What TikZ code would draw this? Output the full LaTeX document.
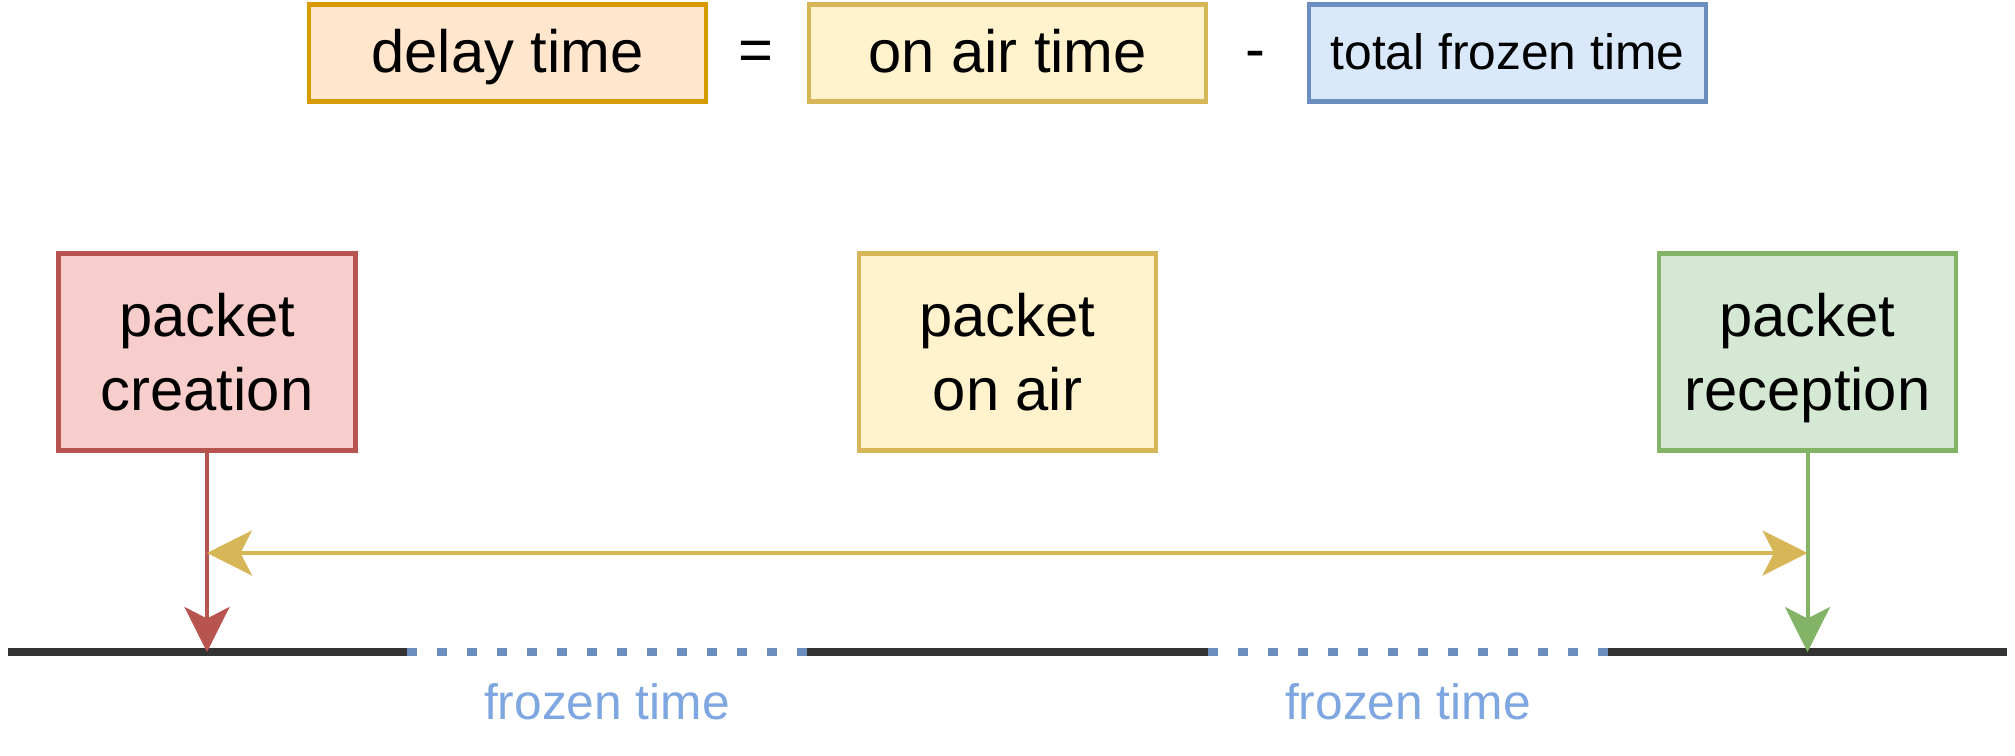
\documentclass[tikz,border=0pt]{standalone}
\usepackage{fontspec}
\setmainfont{Liberation Sans}
\usetikzlibrary{arrows.meta}
\definecolor{orangefill}{HTML}{FFE6CC}\definecolor{orangeline}{HTML}{D79B00}
\definecolor{yellowfill}{HTML}{FFF2CC}\definecolor{yellowline}{HTML}{D6B656}
\definecolor{bluefill}{HTML}{DAE8FC}\definecolor{blueline}{HTML}{6C8EBF}
\definecolor{redfill}{HTML}{F8CECC}\definecolor{redline}{HTML}{B85450}
\definecolor{greenfill}{HTML}{D5E8D4}\definecolor{greenline}{HTML}{82B366}
\definecolor{axisgray}{HTML}{333333}\definecolor{frozentext}{HTML}{7EA6E0}
\begin{document}
\begin{tikzpicture}[
  x=0.02cm, y=-0.02cm,
  box/.style={draw, line width=0.09cm, minimum width=5.95cm, minimum height=3.95cm, inner sep=0pt, align=center, text depth=-1.5pt, font=\fontsize{34}{42.5}\selectfont},
  eqbox/.style={box, minimum width=7.95cm, minimum height=1.95cm, text height=29pt, text depth=7pt},
  op/.style={font=\fontsize{34}{40}\selectfont},
  arrow/.style={line width=0.08cm, -{Stealth[length=0.9cm, width=0.9cm, inset=0.23cm]}},
  axis/.style={line width=0.17cm, draw=axisgray},
  frozen/.style={line width=0.17cm, draw=blueline, dash pattern=on 0.2cm off 0.4cm},
  lbl/.style={font=\fontsize{28.3}{34}\selectfont, text=frozentext},
]
\useasboundingbox (0,0) rectangle (2015,755);

% --- equation ---
\node[eqbox, fill=orangefill, draw=orangeline] (delay) at (507.5,53) {delay time};
\node[op] (eq) at (756,56) {=};
\node[eqbox, fill=yellowfill, draw=yellowline] (onair) at (1007.5,53) {on air time};
\node[op] (minus) at (1255,60) {-};
\node[eqbox, fill=bluefill, draw=blueline, font=\fontsize{28.3}{34}\selectfont, text height=25pt, text depth=6pt] (total) at (1507.5,53) {total frozen time};

% --- events ---
\node[box, fill=redfill, draw=redline] (creation) at (207,352) {packet\\creation};
\node[box, fill=yellowfill, draw=yellowline] (air) at (1007.5,352) {packet\\on air};
\node[box, fill=greenfill, draw=greenline] (reception) at (1807.5,352) {packet\\reception};

% --- time axis ---
\coordinate (t0) at (8,652);
\coordinate (t1) at (407,652);
\coordinate (t2) at (807,652);
\coordinate (t3) at (1208,652);
\coordinate (t4) at (1608,652);
\coordinate (t5) at (2007,652);
\draw[axis] (t0) -- (t1);
\draw[frozen] (t1) -- (t2);
\draw[axis] (t2) -- (t3);
\draw[frozen] (t3) -- (t4);
\draw[axis] (t4) -- (t5);
\node[lbl] (fz1) at (607,702) {frozen time};
\node[lbl] (fz2) at (1408,702) {frozen time};

% --- arrows ---
\coordinate (mid) at (0,553);
\draw[arrow, redline] (creation.south) -- (creation.south |- t0);
\draw[arrow, greenline] (reception.south) -- (reception.south |- t0);
\draw[arrow, yellowline, {Stealth[length=0.9cm, width=0.9cm, inset=0.23cm]}-{Stealth[length=0.9cm, width=0.9cm, inset=0.23cm]}] (creation.south |- mid) -- (reception.south |- mid);
\end{tikzpicture}
\end{document}
